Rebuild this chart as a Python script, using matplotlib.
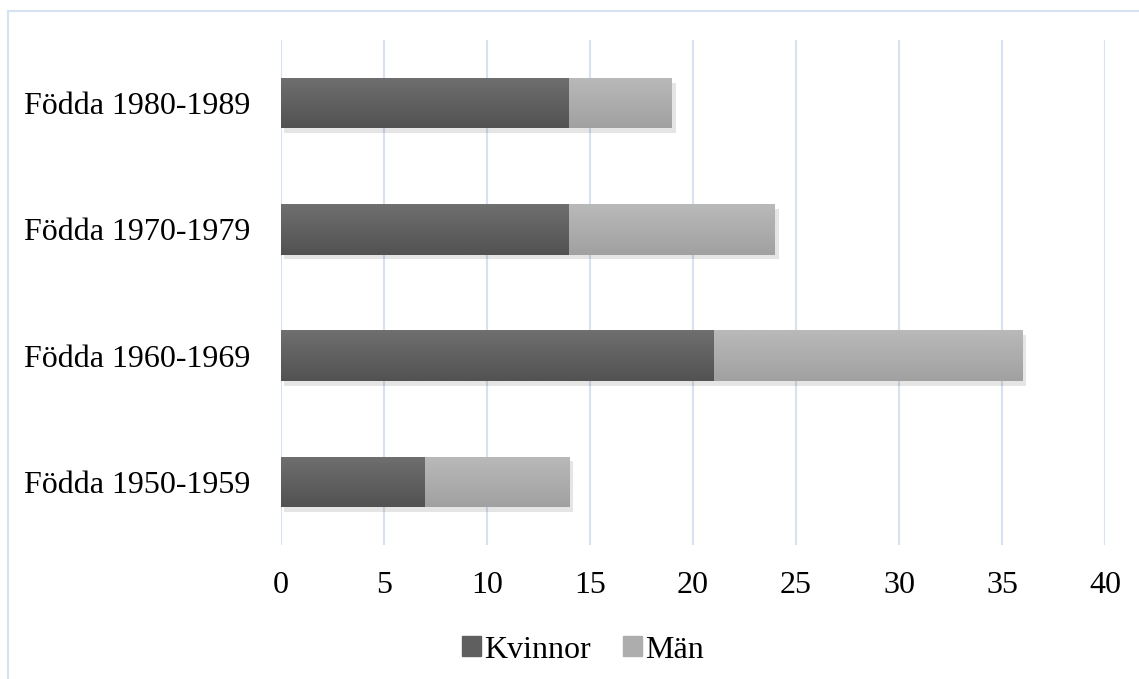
import numpy as np
import matplotlib.pyplot as plt
from matplotlib import patheffects as pe
from matplotlib.patches import Rectangle

plt.rcParams['font.family'] = ['Liberation Serif', 'DejaVu Serif']

# antal per födelsedecennium
kategorier = ['Födda 1950-1959', 'Födda 1960-1969', 'Födda 1970-1979', 'Födda 1980-1989']
kvinnor = [7, 21, 14, 14]
man = [7, 15, 10, 5]
xticks = [0, 5, 10, 15, 20, 25, 30, 35, 40]

fig = plt.figure(figsize=(11.39, 6.79), dpi=100)
ax = fig.add_axes([281 / 1139, 1 - 545 / 679, (1105 - 281) / 1139, (545 - 40) / 679])

# ram runt hela diagrammet
fig.patches.append(Rectangle((8 / 1139, -0.01), 1.2, 1 - 11 / 679 + 0.01, transform=fig.transFigure,
                             fill=False, edgecolor='#d6e1f1', linewidth=1.5))

y = np.arange(len(kategorier))
hojd = 0.4
skugga = [pe.SimplePatchShadow(offset=(2.5, -3.5), shadow_rgbFace='#000000', alpha=0.1), pe.Normal()]


def gradient_stapel(x0, bredd, yc, topp, botten, etikett=None):
    b = ax.barh(yc, bredd, left=x0, height=hojd, color=botten, label=etikett, zorder=2)
    for p in b.patches:
        p.set_path_effects(skugga)
        grad = np.linspace(0, 1, 50)[:, None]
        c1 = np.array(plt.matplotlib.colors.to_rgb(topp))
        c2 = np.array(plt.matplotlib.colors.to_rgb(botten))
        img = c1 + (c2 - c1) * grad[:, :, None]
        im = ax.imshow(img, extent=[x0, x0 + bredd, yc - hojd / 2, yc + hojd / 2],
                       aspect='auto', origin='upper', zorder=3)
        im.set_clip_path(p)
    return b


for i in range(len(kategorier)):
    gradient_stapel(0, kvinnor[i], y[i], '#6f6f6f', '#525252', 'Kvinnor' if i == 0 else None)
    gradient_stapel(kvinnor[i], man[i], y[i], '#b9b9b9', '#a1a1a1', 'Män' if i == 0 else None)

ax.set_xlim(0, 40)
ax.set_ylim(-0.5, 3.5)
ax.set_xticks(xticks)
ax.set_yticks(y)
ax.set_yticklabels(kategorier)
ax.tick_params(length=0, labelsize=23, pad=22)
ax.tick_params(axis='x', pad=19)
ax.grid(axis='x', color='#d6e1f1', linewidth=1.5, zorder=0)
ax.set_axisbelow(True)
for s in ax.spines.values():
    s.set_visible(False)

leg = fig.legend(handles=[Rectangle((0, 0), 1, 1, color='#5f5f5f'), Rectangle((0, 0), 1, 1, color='#adadad')],
                 labels=['Kvinnor', 'Män'], loc='center', bbox_to_anchor=(583 / 1139, 1 - 650 / 679),
                 ncol=2, frameon=False, fontsize=23, handlelength=0.6, handleheight=0.6,
                 handletextpad=0.1, columnspacing=1.0)

fig.savefig('out.png', dpi=100)
